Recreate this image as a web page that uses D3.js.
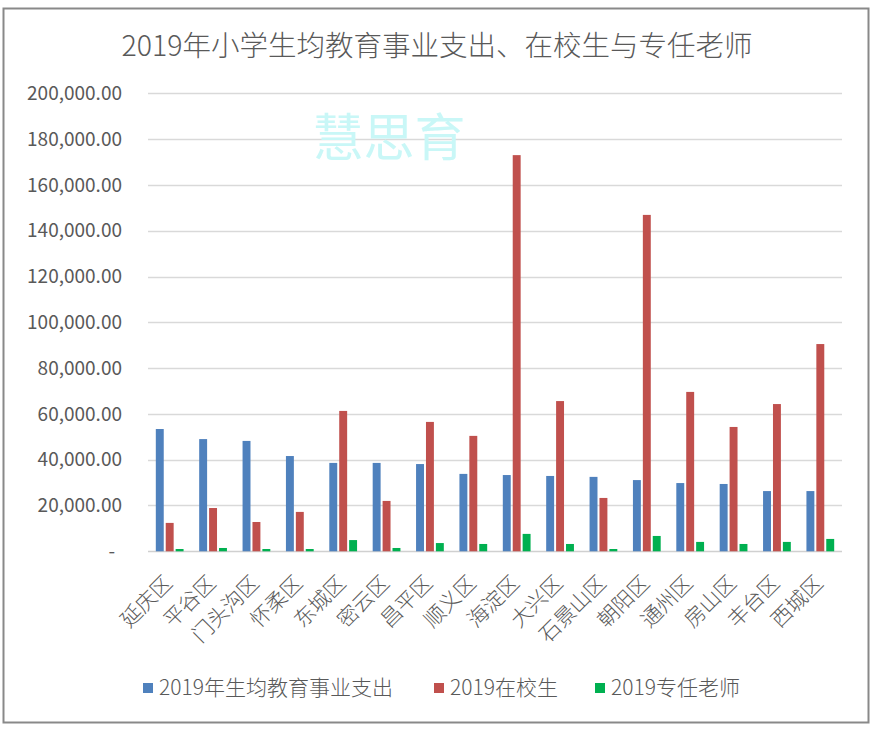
<!DOCTYPE html>
<html><head><meta charset="utf-8">
<script src="https://cdn.jsdelivr.net/npm/d3@7"></script>
<style>
body{margin:0;background:#fff;}
svg text{font-family:"Noto Sans CJK SC","Noto Sans",sans-serif;}
</style></head>
<body><svg id="c" width="878" height="732"></svg>
<script>
const categories = ["延庆区","平谷区","门头沟区","怀柔区","东城区","密云区","昌平区","顺义区","海淀区","大兴区","石景山区","朝阳区","通州区","房山区","丰台区","西城区"];
const seriesNames = ["2019年生均教育事业支出","2019在校生","2019专任老师"];
const spending = [53400,49000,48200,41600,38600,38600,38100,33800,33300,32900,32500,31100,29800,29400,26300,26300];
const students = [12400,18900,12800,17200,61300,22000,56500,50400,173000,65600,23300,146900,69600,54300,64300,90500];
const teachers = [1000,1450,1000,1000,4900,1450,3600,3200,7600,3200,1000,6700,4100,3200,4100,5400];
const yTicks = [0,20000,40000,60000,80000,100000,120000,140000,160000,180000,200000];
const colors = ["#4F81BD","#C0504D","#00B050"];

const svg = d3.select("#c");
svg.append("rect").attr("x",3.5).attr("y",8.5).attr("width",865).attr("height",714)
  .attr("fill","#fff").attr("stroke","#898989").attr("stroke-width",2);

const pLeft=148, pRight=842, pTop=93.3, pBottom=551.3;
const y = d3.scaleLinear().domain([0,200000]).range([pBottom, pTop]);
const x0 = d3.scaleBand().domain(categories).range([pLeft,pRight]).paddingInner(0.36).paddingOuter(0.18);
const x1 = d3.scaleBand().domain(seriesNames).range([0,x0.bandwidth()]).paddingInner(0.2);

svg.append("g").selectAll("line").data(yTicks).join("line")
  .attr("x1",pLeft).attr("x2",pRight).attr("y1",d=>Math.round(y(d))+0.5).attr("y2",d=>Math.round(y(d))+0.5)
  .attr("stroke",d=>d===0?"#d0d0d0":"#d9d9d9").attr("stroke-width",1.3);

const fmt = d3.format(",.2f");
svg.append("g").selectAll("text").data(yTicks).join("text")
  .attr("x",d=>d===0?115:122).attr("y",d=>y(d)).attr("dy","0.35em")
  .attr("text-anchor","end").attr("fill","#595959").attr("font-size",19)
  .text(d=>d===0?"-":fmt(d));

svg.append("text").attr("x",389).attr("y",156).attr("text-anchor","middle")
  .attr("font-size",51).attr("fill","#c9f7f7").text("慧思育");

const data = categories.map((c,i)=>({c, vals:[spending[i],students[i],teachers[i]]}));
const g = svg.append("g").selectAll("g").data(data).join("g")
  .attr("transform",d=>`translate(${x0(d.c)},0)`);
g.selectAll("rect").data(d=>d.vals.map((v,j)=>({v,s:seriesNames[j],j}))).join("rect")
  .attr("x",d=>x1(d.s)).attr("width",x1.bandwidth())
  .attr("y",d=>y(d.v)).attr("height",d=>pBottom-y(d.v))
  .attr("fill",d=>colors[d.j]);

svg.append("g").selectAll("text").data(categories).join("text")
  .attr("transform",d=>`translate(${x0(d)+x0.bandwidth()/2+4},${pBottom+33}) rotate(-45)`)
  .attr("text-anchor","end").attr("fill","#595959").attr("font-size",21).attr("font-weight",300)
  .text(d=>d);

svg.append("text").attr("x",437).attr("y",56).attr("text-anchor","middle")
  .attr("font-size",28.5).attr("font-weight",300).attr("fill","#595959")
  .text("2019年小学生均教育事业支出、在校生与专任老师");

const legX = [143,434,595];
const lg = svg.append("g").selectAll("g").data(seriesNames).join("g")
  .attr("transform",(d,i)=>`translate(${legX[i]},688)`);
lg.append("rect").attr("x",0).attr("y",-5).attr("width",10).attr("height",10).attr("fill",(d,i)=>colors[i]);
lg.append("text").attr("x",16).attr("dy","0.35em").attr("font-size",21).attr("font-weight",300).attr("fill","#595959").text(d=>d);
</script></body></html>
